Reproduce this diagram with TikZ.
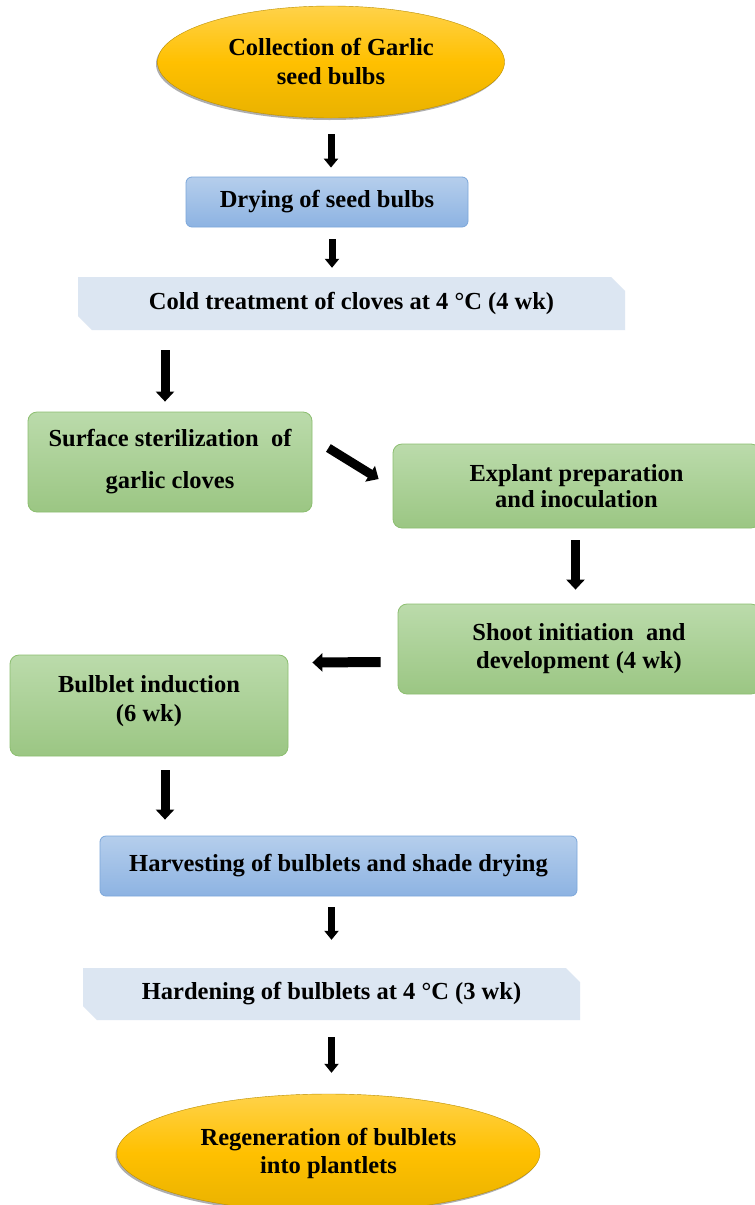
\documentclass[tikz,border=0pt]{standalone}
\usepackage{fontspec}
\setmainfont{Liberation Serif}
\usetikzlibrary{shapes.geometric,shapes.misc,arrows.meta,shadows}
\definecolor{yelTop}{HTML}{FFD24A}
\definecolor{yelMid}{HTML}{FFC000}
\definecolor{yelBot}{HTML}{E9B200}
\definecolor{bluTop}{HTML}{B5CEEC}
\definecolor{bluBot}{HTML}{8DB3E2}
\definecolor{bluLine}{HTML}{7CA7DA}
\definecolor{grnTop}{HTML}{BBDBAB}
\definecolor{grnBot}{HTML}{9BC683}
\definecolor{grnLine}{HTML}{8CBE70}
\definecolor{pale}{HTML}{DCE6F2}
\begin{document}
\begin{tikzpicture}[x=1pt,y=1pt,
  every node/.style={font=\bfseries\fontsize{24.5}{29}\selectfont, align=center, inner sep=0pt},
  oval/.style={ellipse, top color=yelTop, bottom color=yelBot, middle color=yelMid,
    draw=yelBot!80!black, line width=0.4pt,
    drop shadow={shadow xshift=-1.5pt, shadow yshift=-2pt, opacity=0.45, fill=black!70}},
  bluebox/.style={rectangle, rounded corners=6pt, top color=bluTop, bottom color=bluBot, draw=bluLine, line width=0.8pt},
  greenbox/.style={rectangle, rounded corners=9pt, top color=grnTop, bottom color=grnBot, draw=grnLine, line width=0.8pt},
  palebox/.style={chamfered rectangle, chamfered rectangle corners={north east, south west},
    chamfered rectangle xsep=7pt, chamfered rectangle ysep=7pt, fill=pale, draw=none},
  sarr/.style={line width=7pt, -{Triangle[width=14pt,length=9pt]}},
  barr/.style={line width=9pt, -{Triangle[width=18pt,length=10pt]}}
]
\useasboundingbox (0,0) rectangle (755,-1205);
\clip (0,0) rectangle (755,-1205);
\fill[white] (0,0) rectangle (755,-1205);

\node[oval, minimum width=347, minimum height=112] (coll) at (331,-62) {Collection of Garlic\\seed bulbs};
\node[bluebox, minimum width=282, minimum height=50] (dry) at (327,-202) {Drying of seed bulbs};
\node[palebox, minimum width=547, minimum height=53] (cold) at (351.5,-303.5) {Cold treatment of cloves at 4 °C (4 wk)};
\node[greenbox, minimum width=284, minimum height=100] (surf) at (170,-462) {Surface sterilization\ \ of\\[13pt]garlic cloves};
\node[greenbox, minimum width=367, minimum height=84] (expl) at (576.5,-486) {Explant preparation\\[-3pt]and inoculation};
\node[greenbox, minimum width=362, minimum height=90] (shoot) at (579,-649) {Shoot initiation\ \ and\\[-1pt]development (4 wk)};
\node[greenbox, minimum width=278, minimum height=101] (bulb) at (149,-705.5) {Bulblet induction\\(6 wk)\\[-14pt]\mbox{}};
\node[bluebox, minimum width=477, minimum height=60] (harv) at (338.5,-866) {Harvesting of bulblets and shade drying};
\node[palebox, minimum width=497, minimum height=52] (hard) at (331.5,-994) {Hardening of bulblets at 4 °C (3 wk)};
\node[oval, minimum width=423, minimum height=118] (regen) at (328.5,-1153) {Regeneration of bulblets\\[-1pt]into plantlets};

\draw[sarr] ([yshift=-16]coll.south) -- ([yshift=9]coll.south |- dry.north);
\draw[sarr] ([shift={(5,-12)}]dry.south) -- ([shift={(5,9)}]dry.south |- cold.north);
\draw[barr] ([shift={(-5,-20)}]cold.south -| surf.north) -- ([shift={(-5,10)}]surf.north);
\draw[barr] ([shift={(16,14)}]surf.east) -- ([shift={(-14,7)}]expl.west);
\draw[barr] ([shift={(-1,-12)}]expl.south) -- ([shift={(-1,14)}]expl.south |- shoot.north);
\draw[line width=10pt, -{Triangle[width=18pt,length=10pt]}] ([shift={(-17,-13)}]shoot.west) -- ([shift={(24,43)}]bulb.east);
\draw[barr] ([shift={(16,-14)}]bulb.south) -- ([shift={(16,16)}]bulb.south |- harv.north);
\draw[sarr] ([yshift=-11]harv.south -| hard.north) -- ([yshift=28]hard.north);
\draw[sarr] ([yshift=-17]hard.south) -- ([yshift=21]regen.north -| hard.south);
\end{tikzpicture}
\end{document}
